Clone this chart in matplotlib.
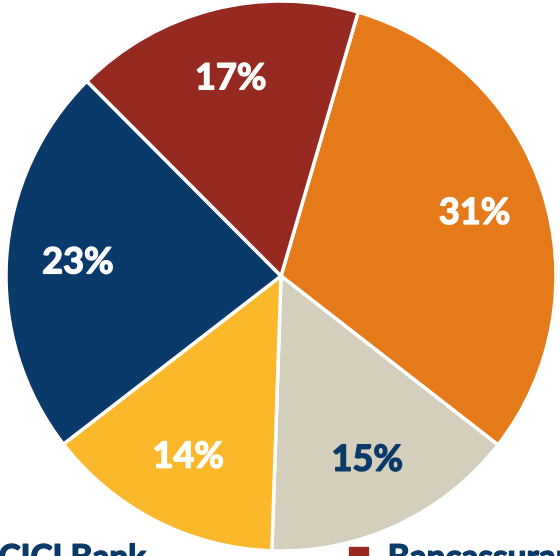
import matplotlib.pyplot as plt
import matplotlib.patheffects as pe
from matplotlib.patches import Patch

# slice order, clockwise from the top-right boundary
categories = ["Agency", "Brokers", "Direct", "ICICI Bank", "Bancassurance"]
shares = [31, 15, 14, 23, 17]
colors = ["#e57a1a", "#d3cfbc", "#fbb82b", "#0a3a6a", "#962a21"]
label_colors = ["white", "#0a3a6a", "white", "white", "white"]

# legend order (2 columns, first row is what shows at the bottom edge)
legend_order = ["ICICI Bank", "Agency", "Brokers", "Bancassurance", "Direct"]

plt.rcParams['font.family'] = ['Lato', 'DejaVu Sans']

fig = plt.figure(figsize=(5.6, 5.56), dpi=100)
ax = fig.add_axes([6 / 560, 5 / 556, 550 / 560, 550 / 556])

wedges, texts, autotexts = ax.pie(
    shares, colors=colors, startangle=73.7, counterclock=False,
    autopct=lambda p: f"{p:.0f}%", pctdistance=0.74,
    wedgeprops=dict(edgecolor="white", linewidth=2.5),
    textprops=dict(fontsize=26, fontweight="bold"))
for t, c in zip(autotexts, label_colors):
    t.set_color(c)
    # thicken the strokes a bit, the original font is heavier
    t.set_path_effects([pe.withStroke(linewidth=1.0, foreground=c)])
ax.set_xlim(-1, 1)
ax.set_ylim(-1, 1)
ax.set_aspect("equal")

handles = [Patch(color=colors[categories.index(n)]) for n in legend_order]
leg = fig.legend(handles, legend_order, ncol=2, loc="upper left",
                 bbox_to_anchor=(-63 / 560, 25 / 556), frameon=False,
                 prop=dict(size=24, weight="bold"), handlelength=0.55,
                 handleheight=0.55, handletextpad=0.6, columnspacing=6.1,
                 borderaxespad=0)
for t in leg.get_texts():
    t.set_color("#0a3a6a")
    t.set_path_effects([pe.withStroke(linewidth=1.0, foreground="#0a3a6a")])

fig.savefig("out.png", dpi=100)
